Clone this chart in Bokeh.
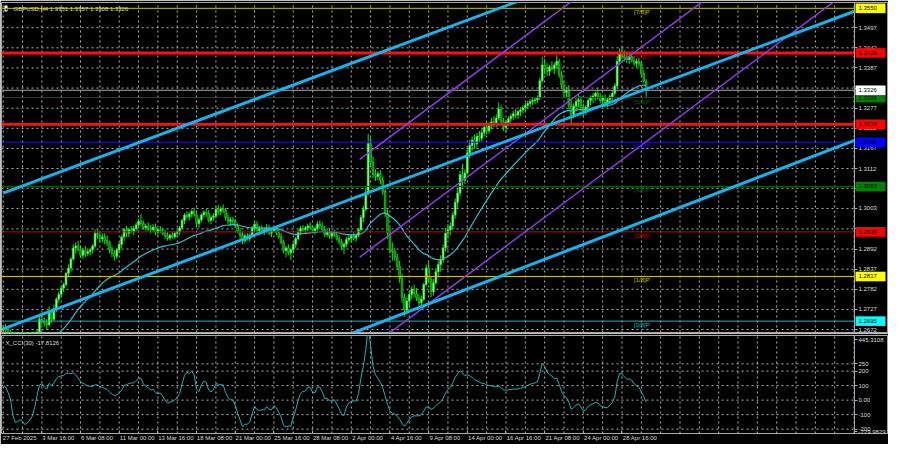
import numpy as np
from bokeh.plotting import figure
from bokeh.models import Range1d, FixedTicker, Label
from bokeh.layouts import column
from bokeh.embed import file_html
from bokeh.resources import INLINE
from bokeh.core.properties import value

# ---------------- data ----------------
TITLE = "GBPUSD,H4  1.3351 1.3357 1.3308 1.3326"
CCI_TITLE = "X_CCI(30) -17.8126"

# warm-up H4 bars before 27 Feb 2025 (off screen, feed MA / CCI)
WARM_HIGH = [1.2603, 1.2612, 1.2628, 1.2652, 1.2645, 1.2641, 1.2647, 1.2661, 1.2655, 1.2642, 1.2630, 1.2641,
             1.2633, 1.2646, 1.2662, 1.2656, 1.2643, 1.2637, 1.2641, 1.2652, 1.2667, 1.2682, 1.2675, 1.2676,
             1.2684, 1.2703, 1.2712, 1.2701, 1.2683, 1.2682]
WARM_LOW = [1.2578, 1.2586, 1.2597, 1.2612, 1.2614, 1.2618, 1.2622, 1.2631, 1.2628, 1.2612, 1.2603, 1.2612,
            1.2608, 1.2617, 1.2633, 1.2627, 1.2618, 1.2612, 1.2617, 1.2626, 1.2638, 1.2652, 1.2647, 1.2651,
            1.2657, 1.2666, 1.2686, 1.2668, 1.2652, 1.2658]
WARM_CLOSE = [1.2590, 1.2600, 1.2615, 1.2640, 1.2625, 1.2630, 1.2635, 1.2650, 1.2640, 1.2625, 1.2615, 1.2630,
              1.2620, 1.2635, 1.2650, 1.2640, 1.2630, 1.2625, 1.2630, 1.2640, 1.2655, 1.2670, 1.2660, 1.2665,
              1.2670, 1.2690, 1.2700, 1.2680, 1.2665, 1.2670]

OPEN = [
    1.2670, 1.2675, 1.2672, 1.2660, 1.2645, 1.2608, 1.2598, 1.2605, 1.2595, 1.2585, 1.2570, 1.2580,
    1.2578, 1.2595, 1.2625, 1.2665, 1.2700, 1.2695, 1.2690, 1.2685, 1.2720, 1.2700, 1.2730, 1.2755,
    1.2768, 1.2785, 1.2795, 1.2825, 1.2840, 1.2865, 1.2895, 1.2900, 1.2890, 1.2875, 1.2888, 1.2880,
    1.2885, 1.2890, 1.2900, 1.2935, 1.2930, 1.2920, 1.2925, 1.2915, 1.2910, 1.2890, 1.2880, 1.2872,
    1.2890, 1.2905, 1.2925, 1.2945, 1.2935, 1.2945, 1.2940, 1.2948, 1.2958, 1.2968, 1.2962, 1.2950,
    1.2955, 1.2948, 1.2945, 1.2952, 1.2938, 1.2945, 1.2942, 1.2935, 1.2928, 1.2922, 1.2930, 1.2925,
    1.2935, 1.2940, 1.2950, 1.2970, 1.2985, 1.2980, 1.2988, 1.2995, 1.2985, 1.2962, 1.2972, 1.2985,
    1.2992, 1.2990, 1.2970, 1.2978, 1.2982, 1.3000, 1.2995, 1.3002, 1.2998, 1.2978, 1.2968, 1.2972,
    1.2968, 1.2955, 1.2940, 1.2930, 1.2915, 1.2928, 1.2920, 1.2930, 1.2948, 1.2960, 1.2942, 1.2948,
    1.2940, 1.2945, 1.2950, 1.2935, 1.2942, 1.2948, 1.2938, 1.2925, 1.2910, 1.2888, 1.2895, 1.2882,
    1.2890, 1.2905, 1.2920, 1.2938, 1.2948, 1.2945, 1.2950, 1.2955, 1.2950, 1.2942, 1.2948, 1.2960,
    1.2955, 1.2945, 1.2932, 1.2940, 1.2928, 1.2935, 1.2930, 1.2920, 1.2912, 1.2898, 1.2905, 1.2918,
    1.2922, 1.2928, 1.2922, 1.2930, 1.2945, 1.2978, 1.3000, 1.3048, 1.3180, 1.3130, 1.3095, 1.3090,
    1.3098, 1.3080, 1.3050, 1.2990, 1.2935, 1.2890, 1.2885, 1.2870, 1.2845, 1.2812, 1.2760, 1.2725,
    1.2750, 1.2768, 1.2782, 1.2770, 1.2758, 1.2745, 1.2755, 1.2795, 1.2840, 1.2810, 1.2775, 1.2800,
    1.2830, 1.2850, 1.2862, 1.2895, 1.2935, 1.2945, 1.2955, 1.2985, 1.3020, 1.3045, 1.3095, 1.3080,
    1.3100, 1.3155, 1.3175, 1.3190, 1.3180, 1.3200, 1.3195, 1.3210, 1.3225, 1.3215, 1.3230, 1.3240,
    1.3235, 1.3250, 1.3275, 1.3240, 1.3225, 1.3238, 1.3248, 1.3255, 1.3262, 1.3258, 1.3268, 1.3272,
    1.3278, 1.3285, 1.3290, 1.3295, 1.3298, 1.3300, 1.3305, 1.3352, 1.3395, 1.3385, 1.3378, 1.3390,
    1.3385, 1.3395, 1.3405, 1.3368, 1.3340, 1.3320, 1.3325, 1.3285, 1.3260, 1.3282, 1.3295, 1.3300,
    1.3278, 1.3265, 1.3280, 1.3298, 1.3305, 1.3310, 1.3318, 1.3308, 1.3298, 1.3305, 1.3290, 1.3300,
    1.3308, 1.3318, 1.3338, 1.3405, 1.3430, 1.3420, 1.3415, 1.3410, 1.3418, 1.3408, 1.3400, 1.3405,
    1.3398, 1.3372, 1.3351]
HIGH = [
    1.2685, 1.2688, 1.2680, 1.2672, 1.2650, 1.2620, 1.2612, 1.2615, 1.2610, 1.2600, 1.2590, 1.2592,
    1.2600, 1.2630, 1.2672, 1.2712, 1.2718, 1.2705, 1.2700, 1.2735, 1.2728, 1.2740, 1.2760, 1.2775,
    1.2790, 1.2800, 1.2830, 1.2850, 1.2870, 1.2905, 1.2910, 1.2915, 1.2898, 1.2895, 1.2900, 1.2890,
    1.2895, 1.2905, 1.2945, 1.2945, 1.2940, 1.2935, 1.2935, 1.2930, 1.2915, 1.2900, 1.2890, 1.2895,
    1.2910, 1.2930, 1.2950, 1.2955, 1.2950, 1.2955, 1.2955, 1.2965, 1.2975, 1.2988, 1.2970, 1.2962,
    1.2965, 1.2958, 1.2960, 1.2962, 1.2950, 1.2955, 1.2950, 1.2945, 1.2938, 1.2935, 1.2940, 1.2940,
    1.2945, 1.2955, 1.2975, 1.2990, 1.2995, 1.2992, 1.3000, 1.3005, 1.2990, 1.2978, 1.2990, 1.2998,
    1.3002, 1.2998, 1.2985, 1.2990, 1.3010, 1.3012, 1.3008, 1.3014, 1.3005, 1.2990, 1.2980, 1.2980,
    1.2975, 1.2962, 1.2950, 1.2940, 1.2935, 1.2935, 1.2935, 1.2955, 1.2970, 1.2968, 1.2955, 1.2958,
    1.2952, 1.2960, 1.2958, 1.2948, 1.2955, 1.2955, 1.2945, 1.2935, 1.2918, 1.2900, 1.2905, 1.2895,
    1.2910, 1.2925, 1.2945, 1.2955, 1.2958, 1.2955, 1.2962, 1.2965, 1.2958, 1.2955, 1.2968, 1.2970,
    1.2965, 1.2955, 1.2945, 1.2950, 1.2940, 1.2945, 1.2940, 1.2930, 1.2920, 1.2910, 1.2925, 1.2930,
    1.2932, 1.2938, 1.2935, 1.2950, 1.2985, 1.3010, 1.3060, 1.3207, 1.3195, 1.3145, 1.3110, 1.3105,
    1.3108, 1.3090, 1.3058, 1.3000, 1.2950, 1.2910, 1.2895, 1.2880, 1.2860, 1.2825, 1.2770, 1.2760,
    1.2775, 1.2790, 1.2795, 1.2785, 1.2770, 1.2765, 1.2800, 1.2850, 1.2855, 1.2818, 1.2810, 1.2840,
    1.2860, 1.2875, 1.2905, 1.2950, 1.2960, 1.2965, 1.2995, 1.3030, 1.3060, 1.3105, 1.3125, 1.3110,
    1.3165, 1.3190, 1.3200, 1.3205, 1.3210, 1.3215, 1.3220, 1.3235, 1.3240, 1.3238, 1.3250, 1.3255,
    1.3260, 1.3292, 1.3285, 1.3250, 1.3245, 1.3255, 1.3262, 1.3270, 1.3275, 1.3272, 1.3280, 1.3285,
    1.3292, 1.3298, 1.3302, 1.3305, 1.3308, 1.3312, 1.3360, 1.3418, 1.3412, 1.3400, 1.3395, 1.3405,
    1.3402, 1.3422, 1.3412, 1.3378, 1.3352, 1.3335, 1.3340, 1.3300, 1.3290, 1.3305, 1.3315, 1.3310,
    1.3290, 1.3285, 1.3305, 1.3312, 1.3318, 1.3322, 1.3330, 1.3318, 1.3312, 1.3315, 1.3305, 1.3315,
    1.3325, 1.3345, 1.3420, 1.3440, 1.3445, 1.3435, 1.3428, 1.3425, 1.3430, 1.3420, 1.3412, 1.3415,
    1.3405, 1.3380, 1.3357]
LOW = [
    1.2660, 1.2665, 1.2655, 1.2640, 1.2600, 1.2590, 1.2585, 1.2590, 1.2575, 1.2560, 1.2562, 1.2570,
    1.2570, 1.2590, 1.2620, 1.2660, 1.2685, 1.2680, 1.2672, 1.2680, 1.2690, 1.2695, 1.2720, 1.2745,
    1.2760, 1.2775, 1.2790, 1.2815, 1.2830, 1.2860, 1.2880, 1.2885, 1.2868, 1.2865, 1.2870, 1.2872,
    1.2875, 1.2880, 1.2895, 1.2920, 1.2910, 1.2910, 1.2905, 1.2900, 1.2880, 1.2870, 1.2860, 1.2865,
    1.2880, 1.2895, 1.2915, 1.2925, 1.2925, 1.2935, 1.2930, 1.2940, 1.2950, 1.2955, 1.2945, 1.2942,
    1.2940, 1.2935, 1.2938, 1.2930, 1.2928, 1.2935, 1.2930, 1.2920, 1.2915, 1.2915, 1.2920, 1.2920,
    1.2925, 1.2930, 1.2945, 1.2960, 1.2975, 1.2970, 1.2978, 1.2980, 1.2955, 1.2950, 1.2965, 1.2978,
    1.2980, 1.2965, 1.2960, 1.2970, 1.2975, 1.2985, 1.2985, 1.2990, 1.2970, 1.2960, 1.2955, 1.2960,
    1.2950, 1.2935, 1.2920, 1.2905, 1.2908, 1.2915, 1.2912, 1.2925, 1.2940, 1.2935, 1.2930, 1.2935,
    1.2930, 1.2935, 1.2930, 1.2925, 1.2938, 1.2930, 1.2920, 1.2905, 1.2880, 1.2870, 1.2875, 1.2862,
    1.2880, 1.2895, 1.2915, 1.2930, 1.2938, 1.2935, 1.2940, 1.2945, 1.2935, 1.2932, 1.2942, 1.2948,
    1.2940, 1.2925, 1.2925, 1.2920, 1.2918, 1.2925, 1.2915, 1.2905, 1.2890, 1.2878, 1.2898, 1.2910,
    1.2910, 1.2915, 1.2912, 1.2925, 1.2940, 1.2965, 1.2995, 1.3040, 1.3120, 1.3085, 1.3078, 1.3080,
    1.3070, 1.3040, 1.2980, 1.2920, 1.2880, 1.2860, 1.2860, 1.2835, 1.2800, 1.2745, 1.2708, 1.2715,
    1.2735, 1.2755, 1.2760, 1.2750, 1.2735, 1.2735, 1.2750, 1.2790, 1.2800, 1.2760, 1.2765, 1.2795,
    1.2815, 1.2830, 1.2855, 1.2885, 1.2920, 1.2930, 1.2945, 1.2975, 1.3005, 1.3035, 1.3060, 1.3070,
    1.3095, 1.3140, 1.3160, 1.3165, 1.3170, 1.3185, 1.3185, 1.3200, 1.3205, 1.3208, 1.3220, 1.3225,
    1.3225, 1.3245, 1.3230, 1.3215, 1.3210, 1.3228, 1.3238, 1.3245, 1.3250, 1.3248, 1.3255, 1.3262,
    1.3268, 1.3275, 1.3280, 1.3285, 1.3288, 1.3292, 1.3300, 1.3345, 1.3370, 1.3365, 1.3365, 1.3380,
    1.3370, 1.3385, 1.3360, 1.3330, 1.3310, 1.3305, 1.3275, 1.3235, 1.3250, 1.3268, 1.3280, 1.3270,
    1.3252, 1.3258, 1.3272, 1.3285, 1.3290, 1.3298, 1.3300, 1.3290, 1.3282, 1.3280, 1.3280, 1.3292,
    1.3300, 1.3312, 1.3332, 1.3395, 1.3410, 1.3405, 1.3400, 1.3398, 1.3402, 1.3392, 1.3388, 1.3390,
    1.3365, 1.3345, 1.3308]
CLOSE = [
    1.2675, 1.2672, 1.2660, 1.2645, 1.2608, 1.2598, 1.2605, 1.2595, 1.2585, 1.2570, 1.2580, 1.2578,
    1.2595, 1.2625, 1.2665, 1.2700, 1.2695, 1.2690, 1.2685, 1.2720, 1.2700, 1.2730, 1.2755, 1.2768,
    1.2785, 1.2795, 1.2825, 1.2840, 1.2865, 1.2895, 1.2900, 1.2890, 1.2875, 1.2888, 1.2880, 1.2885,
    1.2890, 1.2900, 1.2935, 1.2930, 1.2920, 1.2925, 1.2915, 1.2910, 1.2890, 1.2880, 1.2872, 1.2890,
    1.2905, 1.2925, 1.2945, 1.2935, 1.2945, 1.2940, 1.2948, 1.2958, 1.2968, 1.2962, 1.2950, 1.2955,
    1.2948, 1.2945, 1.2952, 1.2938, 1.2945, 1.2942, 1.2935, 1.2928, 1.2922, 1.2930, 1.2925, 1.2935,
    1.2940, 1.2950, 1.2970, 1.2985, 1.2980, 1.2988, 1.2995, 1.2985, 1.2962, 1.2972, 1.2985, 1.2992,
    1.2990, 1.2970, 1.2978, 1.2982, 1.3000, 1.2995, 1.3002, 1.2998, 1.2978, 1.2968, 1.2972, 1.2968,
    1.2955, 1.2940, 1.2930, 1.2915, 1.2928, 1.2920, 1.2930, 1.2948, 1.2960, 1.2942, 1.2948, 1.2940,
    1.2945, 1.2950, 1.2935, 1.2942, 1.2948, 1.2938, 1.2925, 1.2910, 1.2888, 1.2895, 1.2882, 1.2890,
    1.2905, 1.2920, 1.2938, 1.2948, 1.2945, 1.2950, 1.2955, 1.2950, 1.2942, 1.2948, 1.2960, 1.2955,
    1.2945, 1.2932, 1.2940, 1.2928, 1.2935, 1.2930, 1.2920, 1.2912, 1.2898, 1.2905, 1.2918, 1.2922,
    1.2928, 1.2922, 1.2930, 1.2945, 1.2978, 1.3000, 1.3048, 1.3180, 1.3130, 1.3095, 1.3090, 1.3098,
    1.3080, 1.3050, 1.2990, 1.2935, 1.2890, 1.2885, 1.2870, 1.2845, 1.2812, 1.2760, 1.2725, 1.2750,
    1.2768, 1.2782, 1.2770, 1.2758, 1.2745, 1.2755, 1.2795, 1.2840, 1.2810, 1.2775, 1.2800, 1.2830,
    1.2850, 1.2862, 1.2895, 1.2935, 1.2945, 1.2955, 1.2985, 1.3020, 1.3045, 1.3095, 1.3080, 1.3100,
    1.3155, 1.3175, 1.3190, 1.3180, 1.3200, 1.3195, 1.3210, 1.3225, 1.3215, 1.3230, 1.3240, 1.3235,
    1.3250, 1.3275, 1.3240, 1.3225, 1.3238, 1.3248, 1.3255, 1.3262, 1.3258, 1.3268, 1.3272, 1.3278,
    1.3285, 1.3290, 1.3295, 1.3298, 1.3300, 1.3305, 1.3352, 1.3395, 1.3385, 1.3378, 1.3390, 1.3385,
    1.3395, 1.3405, 1.3368, 1.3340, 1.3320, 1.3325, 1.3285, 1.3260, 1.3282, 1.3295, 1.3300, 1.3278,
    1.3265, 1.3280, 1.3298, 1.3305, 1.3310, 1.3318, 1.3308, 1.3298, 1.3305, 1.3290, 1.3300, 1.3308,
    1.3318, 1.3338, 1.3405, 1.3430, 1.3420, 1.3415, 1.3410, 1.3418, 1.3408, 1.3400, 1.3405, 1.3398,
    1.3372, 1.3351, 1.3326]

# time-axis labels, one every 16 H4 bars starting at bar 0
TIME_LABELS = ["27 Feb 2025", "3 Mar 16:00", "6 Mar 08:00", "11 Mar 00:00", "13 Mar 16:00",
               "18 Mar 08:00", "21 Mar 00:00", "25 Mar 16:00", "28 Mar 08:00", "2 Apr 00:00",
               "4 Apr 16:00", "9 Apr 08:00", "14 Apr 00:00", "16 Apr 16:00", "21 Apr 08:00",
               "24 Apr 00:00", "28 Apr 16:00"]

PRICE_TICKS = [1.2672, 1.2727, 1.2782, 1.2837, 1.2892, 1.2947, 1.3003, 1.3058, 1.3112, 1.3167,
               1.3222, 1.3277, 1.3332, 1.3387, 1.3442, 1.3497]
CCI_MAX, CCI_MIN = 445.3108, -229.9829
CCI_TICKS = [250, 200, 100, 0, -100, -200]

# horizontal levels (Murray levels + two red S/R lines), price-label colours
LEVELS = [1.3550, 1.3428, 1.3306, 1.3233, 1.3184, 1.3063, 1.2939, 1.2817, 1.2695]
LEVEL_LINE = ["#c8c800", "#ff1010", "#006400", "#ff1010", "#1a1ad0", "#006400", "#c00000", "#c8c800", "#00b8c8"]
LEVEL_WIDTH = [1, 3, 1, 3, 1, 1, 1, 1, 1]
LEVEL_BOX = ["#ffff00", "#ff0000", "#008000", "#ff0000", "#0000ff", "#008000", "#ff0000", "#ffff00", "#00ffff"]
CURRENT = 1.3326

MURRAY_PRICE = [1.3550, 1.3428, 1.3306, 1.3184, 1.3063, 1.2939, 1.2817, 1.2695]
MURRAY_TEXT = ["[7/8]P", "[6/8]P", "[5/8]P", "[4/8]P", "[3/8]P", "[2/8]P", "[1/8]P", "[0/8]P"]
MURRAY_COLOR = ["#c8c800", "#b00000", "#006400", "#1a1ad0", "#006400", "#c00000", "#c8c800", "#00b8c8"]

# trend lines: (bar start, price start, bar end, price end)
CHANNEL_X0 = [0, 0, 0]
CHANNEL_Y0 = [1.3045, 1.2674, 1.2296]
CHANNEL_X1 = [352.2, 352.2, 352.2]
CHANNEL_Y1 = [1.3912, 1.3542, 1.3189]
PURPLE_X0 = [147.5, 147.5, 147.5]
PURPLE_Y0 = [1.3137, 1.2870, 1.2602]
PURPLE_X1 = [352.2, 352.2, 352.2]
PURPLE_Y1 = [1.4146, 1.3878, 1.3610]

MA_PERIOD = 20
CCI_PERIOD = 30

# ---------------- derived indicators ----------------
all_close = np.array(WARM_CLOSE + CLOSE)
all_high = np.array(WARM_HIGH + HIGH)
all_low = np.array(WARM_LOW + LOW)
nw = len(WARM_CLOSE)
N = len(all_close)

smma = np.full(N, np.nan)
smma[MA_PERIOD - 1] = all_close[:MA_PERIOD].mean()
for k in range(MA_PERIOD, N):
    smma[k] = (smma[k - 1] * (MA_PERIOD - 1) + all_close[k]) / MA_PERIOD

tp = (all_high + all_low + all_close) / 3.0
cci = np.full(N, np.nan)
for k in range(CCI_PERIOD - 1, N):
    w = tp[k - CCI_PERIOD + 1:k + 1]
    m = w.mean()
    md = np.abs(w - m).mean()
    cci[k] = (tp[k] - m) / (0.015 * md) if md > 0 else 0.0

n = len(CLOSE)
idx = np.arange(n)
o = np.array(OPEN); h = np.array(HIGH); l = np.array(LOW); c = np.array(CLOSE)
up = c >= o

# ---------------- geometry / styling ----------------
FONT = "Liberation Sans"
FS = "6px"
GRID = "#b4b4b4"
AXIS = "#a8a8a8"
LBL = "#dcdcdc"
AX_X = 352.2                      # bar position of the price scale line
BAR_PX = 883 / 365.3              # pixels per bar
FRAME_W = 887
XR = Range1d(-0.7, -0.7 + FRAME_W / BAR_PX)
PX = 1 / BAR_PX                   # bars per pixel
P_Y = (1.26639, 1.35659)
C_Y = (CCI_MIN, CCI_MAX)
MAIN_H = 330
CCI_H = 98
VGRID = list(range(0, 353, 8))


def style(fig):
    fig.background_fill_color = "black"
    fig.border_fill_color = "black"
    fig.outline_line_color = AXIS
    fig.outline_line_width = 1
    for g in fig.grid:
        g.visible = False
    for ax in fig.yaxis:
        ax.fixed_location = AX_X
        ax.axis_line_color = AXIS
        ax.major_tick_line_color = AXIS
        ax.major_tick_out = 3
        ax.major_tick_in = 0
        ax.minor_tick_line_color = None
        ax.major_label_standoff = 1
        ax.major_label_text_color = LBL
        ax.major_label_text_font = FONT
        ax.major_label_text_font_size = FS


def grid_lines(fig, yr, hticks):
    fig.segment(VGRID, [yr[0]] * len(VGRID), VGRID, [yr[1]] * len(VGRID),
                color=GRID, line_width=1, line_dash="2 3")
    fig.segment([XR.start] * len(hticks), hticks, [AX_X] * len(hticks), hticks,
                color=GRID, line_width=1, line_dash="2 3")


# ---------------- main price panel ----------------
p = figure(frame_width=FRAME_W, frame_height=MAIN_H, x_range=XR, y_range=Range1d(*P_Y),
           output_backend="svg", toolbar_location=None, x_axis_location=None, y_axis_location="right",
           min_border_left=1, min_border_right=0, min_border_top=2, min_border_bottom=1)
style(p)
p.yaxis.ticker = FixedTicker(ticks=PRICE_TICKS)
p.yaxis.major_label_overrides = {t: f"{t:.4f}" for t in PRICE_TICKS}
grid_lines(p, P_Y, PRICE_TICKS)

# candles
p.segment(idx, l, idx, h, color="#00f000", line_width=1)
p.vbar(idx[up], 0.72, o[up], c[up], fill_color="#9cff9c", line_color="#2aee2a", line_width=0.7)
p.vbar(idx[~up], 0.72, o[~up], c[~up], fill_color="#008200", line_color="#1fd01f", line_width=0.7)

# moving average
p.line(idx, smma[nw:], color="#30c0d0", line_width=1.2)

# horizontal levels
for lv, col, wd in zip(LEVELS, LEVEL_LINE, LEVEL_WIDTH):
    p.segment([XR.start], [lv], [AX_X], [lv], color=col, line_width=wd)
p.segment([XR.start], [CURRENT], [AX_X], [CURRENT], color="#a8a8a8", line_width=1)

# channels
p.segment(PURPLE_X0, PURPLE_Y0, PURPLE_X1, PURPLE_Y1, color="#8f3ce6", line_width=1.5)
p.segment(CHANNEL_X0, CHANNEL_Y0, CHANNEL_X1, CHANNEL_Y1, color="#16b4ee", line_width=3)

# murray texts
p.text(x=[267.5] * len(MURRAY_PRICE), y=MURRAY_PRICE, text=MURRAY_TEXT, text_color=MURRAY_COLOR,
       text_align="right", text_baseline="top", y_offset=1, text_font=value(FONT), text_font_size=FS)

# price boxes on the right scale (drawn over the scale labels)
box_vals = LEVELS + [CURRENT]
box_cols = LEVEL_BOX + ["#ffffff"]
half = (P_Y[1] - P_Y[0]) / MAIN_H * 4.8
box_left = AX_X + 1 * PX
p.quad(left=[box_left] * len(box_vals), right=[AX_X + 31 * PX] * len(box_vals),
       bottom=[v - half for v in box_vals], top=[v + half for v in box_vals],
       fill_color=box_cols, line_color=None, level="overlay")
p.text(x=[box_left + 3 * PX] * len(box_vals), y=box_vals, text=[f"{v:.4f}" for v in box_vals],
       text_color="black", text_align="left", text_baseline="middle",
       text_font=value(FONT), text_font_size=FS, level="overlay")

# title
p.add_layout(Label(x=XR.start, y=P_Y[1], x_offset=3, y_offset=-3, text="\u25be", text_baseline="top",
                   text_color="black", text_font_size="5px", background_fill_color="white"))
p.add_layout(Label(x=XR.start, y=P_Y[1], x_offset=12, y_offset=-3, text=TITLE, text_baseline="top",
                   text_color=LBL, text_font=FONT, text_font_size=FS))

# ---------------- CCI panel ----------------
q = figure(frame_width=FRAME_W, frame_height=CCI_H, x_range=XR, y_range=Range1d(*C_Y),
           output_backend="svg", toolbar_location=None, y_axis_location="right",
           min_border_left=1, min_border_right=0, min_border_top=2, min_border_bottom=11)
style(q)
# extreme labels sit just inside the panel, as the terminal draws them
cpx = (CCI_MAX - CCI_MIN) / CCI_H
top_lbl = CCI_MAX - 4 * cpx
bot_lbl = CCI_MIN + 2 * cpx
q.yaxis.ticker = FixedTicker(ticks=CCI_TICKS + [top_lbl, bot_lbl])
ovr = {t: str(t) for t in CCI_TICKS}
ovr[0] = "0.00"
ovr[top_lbl] = f"{CCI_MAX:.4f}"
ovr[bot_lbl] = f"{CCI_MIN:.4f}"
q.yaxis.major_label_overrides = ovr
grid_lines(q, C_Y, CCI_TICKS)

q.line(idx, cci[nw:], color="#26b0b8", line_width=1)

tick_pos = [16 * k for k in range(len(TIME_LABELS))]
label_pos = [t + 0.62 * len(s) for t, s in zip(tick_pos, TIME_LABELS)]
xa = q.xaxis[0]
xa.ticker = FixedTicker(ticks=label_pos, minor_ticks=tick_pos)
xa.major_label_overrides = {lp: s for lp, s in zip(label_pos, TIME_LABELS)}
xa.major_tick_in = 0
xa.major_tick_out = 0
xa.minor_tick_in = 3
xa.minor_tick_out = 0
xa.minor_tick_line_color = AXIS
xa.axis_line_color = AXIS
xa.major_label_standoff = 1
xa.major_label_text_color = LBL
xa.major_label_text_font = FONT
xa.major_label_text_font_size = FS

q.add_layout(Label(x=XR.start, y=C_Y[1], x_offset=4, y_offset=-4, text=CCI_TITLE, text_baseline="top",
                   text_color=LBL, text_font=FONT, text_font_size=FS))

layout = column(p, q, spacing=0)
open("out.html", "w").write(file_html(layout, INLINE))
